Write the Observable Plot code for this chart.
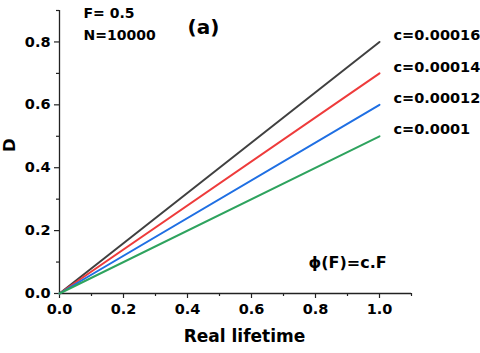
<!DOCTYPE html>
<html>
<head>
<meta charset="utf-8">
<script src="https://cdn.jsdelivr.net/npm/d3@7"></script>
<script src="https://cdn.jsdelivr.net/npm/@observablehq/plot@0.6"></script>
<style>
  html, body { margin: 0; padding: 0; background: #fff; }
  #chart svg { display: block; }
</style>
</head>
<body>
<div id="chart"></div>
<script>
// ---- data ----
const seriesNames = ["c=0.00016", "c=0.00014", "c=0.00012", "c=0.0001"];
const seriesColors = ["#404040", "#ee3b3b", "#1f6fe3", "#2ea35e"];
const lifetime = [0, 1.0];
const dC16 = [0, 0.8];
const dC14 = [0, 0.7];
const dC12 = [0, 0.6];
const dC10 = [0, 0.5];
const xTickValues = [0, 0.2, 0.4, 0.6, 0.8, 1.0];
const xMinorTicks = [0.1, 0.3, 0.5, 0.7, 0.9, 1.1];
const yTickValues = [0, 0.2, 0.4, 0.6, 0.8];
const yMinorTicks = [0.1, 0.3, 0.5, 0.7, 0.9];
const xTitle = "Real lifetime";
const yTitle = "D";
const noteF = "F= 0.5";
const noteN = "N=10000";
const panelLabel = "(a)";
const formula = "\u03D5(F)=c.F";

// ---- build table ----
const seriesValues = [dC16, dC14, dC12, dC10];
const rows = [];
seriesNames.forEach((s, i) => {
  lifetime.forEach((t, j) => rows.push({series: s, x: t, y: seriesValues[i][j]}));
});
const ends = rows.filter(d => d.x === lifetime[lifetime.length - 1]);

const font = "DejaVu Sans, Liberation Sans, Arial, sans-serif";
const axisColor = "#222";

const chart = Plot.plot({
  width: 480,
  height: 353,
  marginLeft: 59,
  marginTop: 10,
  marginRight: 69,
  marginBottom: 60,
  style: {fontFamily: font, fontWeight: "bold", fontSize: "14px", color: "#000", background: "#fff"},
  x: {domain: [0, 1.1]},
  y: {domain: [0, 0.9]},
  color: {domain: seriesNames, range: seriesColors},
  marks: [
    Plot.axisX({ticks: xTickValues, tickSize: 5, tickPadding: 5, tickFormat: d => d.toFixed(1),
      label: null, stroke: axisColor, strokeWidth: 1.2, fontSize: 14.5, fontWeight: "bold"}),
    Plot.axisX({ticks: xMinorTicks, tickSize: 3, tickFormat: () => "", label: null,
      stroke: axisColor, strokeWidth: 1.2}),
    Plot.axisY({ticks: yTickValues, tickSize: 5, tickPadding: 4, tickFormat: d => d.toFixed(1),
      label: null, stroke: axisColor, strokeWidth: 1.2, fontSize: 14.5, fontWeight: "bold"}),
    Plot.axisY({ticks: yMinorTicks, tickSize: 3, tickFormat: () => "", label: null,
      stroke: axisColor, strokeWidth: 1.2}),
    Plot.ruleX([0], {stroke: axisColor, strokeWidth: 1.3}),
    Plot.ruleY([0], {stroke: axisColor, strokeWidth: 1.3}),
    Plot.line(rows, {x: "x", y: "y", z: "series", stroke: "series", strokeWidth: 2}),
    Plot.text(ends, {x: "x", y: "y", text: "series", dx: 14, dy: -6.5, textAnchor: "start",
      fontSize: 14.5, fontWeight: "bold", fill: "#000"}),
    Plot.text([xTitle], {frameAnchor: "bottom", dx: 9, dy: 48, lineAnchor: "bottom",
      fontSize: 17, fontWeight: "bold", fill: "#000"}),
    Plot.text([yTitle], {frameAnchor: "left", dx: -50, rotate: -90,
      fontSize: 16.5, fontWeight: "bold", fill: "#000"}),
    Plot.text([noteF], {frameAnchor: "top-left", dx: 24, dy: -2, lineAnchor: "top", textAnchor: "start",
      fontSize: 14, fontWeight: "bold", fill: "#000"}),
    Plot.text([noteN], {frameAnchor: "top-left", dx: 24, dy: 20, lineAnchor: "top", textAnchor: "start",
      fontSize: 14, fontWeight: "bold", fill: "#000"}),
    Plot.text([panelLabel], {frameAnchor: "top-left", dx: 144, dy: 9, lineAnchor: "top", textAnchor: "middle",
      fontSize: 20, fontWeight: "bold", fill: "#000"}),
    Plot.text([formula], {frameAnchor: "bottom-left", dx: 249, dy: -26, lineAnchor: "bottom", textAnchor: "start",
      fontSize: 16, fontWeight: "bold", fill: "#000"})
  ]
});
document.getElementById("chart").appendChild(chart);
</script>
</body>
</html>
